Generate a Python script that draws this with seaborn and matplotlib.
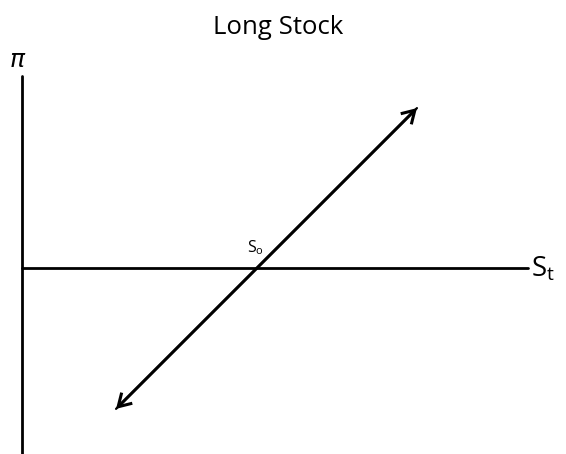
import numpy as np
import pandas as pd
import matplotlib
matplotlib.use('Agg')
import matplotlib.pyplot as plt
import seaborn as sns

# payoff of a long stock position, bought at S0
s0 = 50
stock_price = [20, 84]
profit = [s - s0 for s in stock_price]

sns.set_theme(style='white')
plt.rcParams['font.family'] = ['Open Sans', 'DejaVu Sans']
plt.rcParams['mathtext.fontset'] = 'custom'
plt.rcParams['mathtext.rm'] = 'Open Sans'

fig = plt.figure(figsize=(5.66, 4.54), dpi=100)
ax = fig.add_axes([0, 0, 1, 1])
ax.set_xlim(-4.68, 115.7)
ax.set_ylim(-39.6, 57.0)
ax.axis('off')

# axes drawn as lines
sns.lineplot(x=[0, 107.7], y=[0, 0], color='black', lw=2.0, ax=ax,
             estimator=None, sort=False)
sns.lineplot(x=[0, 0], y=[-40, 40.9], color='black', lw=2.0, ax=ax,
             estimator=None, sort=False)

# payoff line with arrows both ends
df = pd.DataFrame({'S': stock_price, 'P': profit})
sns.lineplot(data=df, x='S', y='P', color='black', lw=1.6, ax=ax)
ax.annotate('', xy=(df.S[1], df.P[1]), xytext=(df.S[0], df.P[0]),
            arrowprops=dict(arrowstyle='<->,head_length=0.5,head_width=0.3',
                            lw=2.2, color='black', capstyle='butt',
                            joinstyle='miter',
                            mutation_scale=18, shrinkA=0, shrinkB=0))

ax.text(54.5, 51.1, 'Long Stock', ha='center', va='center', fontsize=18.5, color='black')
ax.text(-0.9, 44.1, r'$\pi$', ha='center', va='center', fontsize=18, color='black')
ax.text(108.2, -0.3, r'$\mathregular{S_t}$', ha='left', va='center', fontsize=20, color='black')
ax.text(49.6, 4.2, r'$\mathregular{S_o}$', ha='center', va='center', fontsize=11.5, color='black')

fig.savefig('out.png', dpi=100)
